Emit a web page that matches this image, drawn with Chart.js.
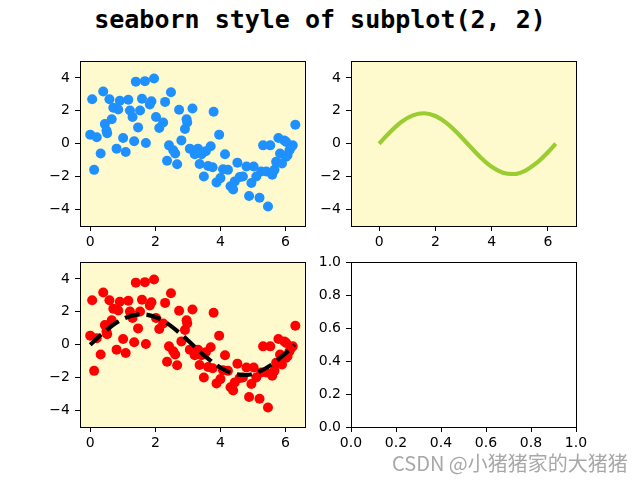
<!DOCTYPE html>
<html>
<head>
<meta charset="utf-8">
<script src="https://cdn.jsdelivr.net/npm/chart.js@4"></script>
<style>
  body { margin: 0; background: #fff; }
  #page { position: relative; width: 640px; height: 480px; overflow: hidden; }
  canvas { position: absolute; }
  #title {
    position: absolute; left: 0; top: 5px; width: 640px; text-align: center;
    font-family: 'DejaVu Sans Mono', monospace; font-weight: bold; font-size: 25px;
    color: #000;
  }
  #mark {
    position: absolute; left: 392px; top: 448px;
    font-family: 'Noto Sans CJK SC', sans-serif; font-size: 20px; color: #a8a8a8;
    white-space: nowrap;
  }
</style>
</head>
<body>
<div id="page">
  <div id="title">seaborn style of subplot(2, 2)</div>
  <canvas id="c1" width="295" height="208" style="left:30px;top:48px"></canvas>
  <canvas id="c2" width="295" height="208" style="left:301px;top:48px"></canvas>
  <canvas id="c3" width="295" height="208" style="left:30px;top:249px"></canvas>
  <canvas id="c4" width="295" height="208" style="left:301px;top:249px"></canvas>
  <div id="mark">CSDN @小猪猪家的大猪猪</div>
</div>
<script>
// scatter points (same set in both scatter panels)
const scatterX = [0.00, 0.06, 0.12, 0.20, 0.32, 0.40, 0.45, 0.52, 0.59, 0.66, 0.71, 0.81, 0.86, 0.91, 1.01, 1.09,
  1.17, 1.22, 1.30, 1.35, 1.40, 1.47, 1.53, 1.59, 1.68, 1.71, 1.83, 1.88, 1.96, 2.02, 2.12, 2.24, 2.30, 2.36,
  2.42, 2.48, 2.55, 2.61, 2.67, 2.73, 2.80, 2.91, 2.98, 3.06, 3.14, 3.21, 3.31, 3.36, 3.49, 3.55, 3.62, 3.70,
  3.76, 3.79, 3.88, 3.96, 4.00, 4.08, 4.14, 4.23, 4.31, 4.39, 4.44, 4.52, 4.59, 4.69, 4.80, 4.88, 4.95, 5.02,
  5.10, 5.20, 5.25, 5.31, 5.41, 5.46, 5.53, 5.59, 5.66, 5.71, 5.78, 5.83, 5.89, 5.96, 6.01, 6.06, 6.12, 6.17,
  6.22, 6.30, 3.21, 3.42, 6.02, 2.96, 0.50];
const scatterY = [0.55, 2.70, -1.59, 0.39, -0.60, 3.17, 1.19, 0.63, 2.70, 1.48, 2.18, -0.30, 2.08, 2.61, 0.35, -0.50,
  2.67, 2.02, 1.62, 0.15, 3.77, 0.99, 2.02, 2.73, 3.80, 0.04, 2.38, 2.58, 3.96, 1.62, 0.95, 1.29, 2.54, -1.04,
  -0.10, 3.13, -0.40, -0.60, -1.25, 2.06, 0.20, 0.89, 1.29, -0.30, 2.14, -0.50, -0.30, -1.23, -1.99, -0.46, -1.35, -0.16,
  -1.43, 1.94, -2.35, 0.55, -2.09, -1.55, -0.64, -1.59, -2.58, -2.78, -2.29, -1.15, -2.03, -1.99, -1.39, -3.18, -2.39, -1.39,
  -1.99, -3.28, -1.69, -0.10, -1.69, -3.82, -0.10, -1.89, -1.59, -1.10, 0.35, -0.60, -1.20, 0.20, -0.80, -0.70, -0.40, -0.20,
  -0.10, 1.15, -0.64, -0.64, 0.10, 1.49, 0.80];

// sine curve
const curveX = [0, 0.4, 0.8, 1.2, 1.6, 2.0, 2.4, 2.8, 3.2, 3.6, 4.0, 4.4, 4.8, 5.2, 5.6, 6.0, 6.28];
const curveY = [0, 0.72, 1.33, 1.72, 1.85, 1.68, 1.25, 0.62, -0.11, -0.82, -1.40, -1.76, -1.84, -1.63, -1.17, -0.52, 0.0];

// tick labels
const ticksX = [0, 2, 4, 6];
const ticksY = [-4, -2, 0, 2, 4];
const ticksUnit = [0, 0.2, 0.4, 0.6, 0.8, 1.0];

const pts = (xs, ys) => xs.map((x, i) => ({ x: x, y: ys[i] }));
const minus = v => String(v).replace('-', '\u2212');

// axes background + full frame like matplotlib spines
const framePlugin = {
  id: 'frame',
  beforeDraw(chart, args, opts) {
    const a = chart.chartArea, ctx = chart.ctx;
    ctx.save();
    ctx.fillStyle = opts.bg;
    ctx.fillRect(a.left, a.top, a.right - a.left, a.bottom - a.top);
    ctx.restore();
  },
  afterDraw(chart) {
    const a = chart.chartArea, ctx = chart.ctx;
    ctx.save();
    ctx.strokeStyle = '#000';
    ctx.lineWidth = 1;
    ctx.strokeRect(Math.round(a.left) + 0.5, Math.round(a.top) + 0.5,
      Math.round(a.right - a.left), Math.round(a.bottom - a.top));
    ctx.restore();
  }
};

function axis(min, max, ticks, fmt, isX) {
  return {
    type: 'linear', min: min, max: max,
    afterBuildTicks: s => { s.ticks = ticks.map(v => ({ value: v })); },
    afterFit: s => { if (isX) s.height = 30; else s.width = 50; },
    grid: { drawOnChartArea: false, drawTicks: true, tickLength: 5, color: '#000', lineWidth: 1 },
    border: { display: false },
    ticks: {
      color: '#000', font: { family: 'DejaVu Sans', size: 14 },
      padding: isX ? 3 : 5, autoSkip: false, maxRotation: 0,
      callback: fmt
    }
  };
}

function makePanel(id, datasets, xMin, xMax, xt, yMin, yMax, yt, bg, fmt) {
  return new Chart(document.getElementById(id), {
    type: 'scatter',
    data: { datasets: datasets },
    options: {
      responsive: false, animation: false, devicePixelRatio: 1,
      layout: { padding: { top: 10, right: 20, left: 0, bottom: 0 } },
      plugins: { legend: { display: false }, tooltip: { enabled: false }, frame: { bg: bg } },
      scales: {
        x: axis(xMin, xMax, xt, fmt, true),
        y: axis(yMin, yMax, yt, fmt, false)
      }
    },
    plugins: [framePlugin]
  });
}

const chiffon = '#fffacd';

makePanel('c1', [{
  data: pts(scatterX, scatterY), backgroundColor: '#1e90ff', pointRadius: 5, borderWidth: 0
}], -0.314, 6.597, ticksX, -5, 5, ticksY, chiffon, minus);

makePanel('c2', [{
  type: 'line', data: pts(curveX, curveY), borderColor: '#9acd32', borderWidth: 4.2,
  pointRadius: 0, showLine: true, cubicInterpolationMode: 'monotone', fill: false
}], -1, 7, ticksX, -5, 5, ticksY, chiffon, minus);

makePanel('c3', [{
  type: 'line', data: pts(curveX, curveY), borderColor: '#000', borderWidth: 4.2,
  borderDash: [15, 7], pointRadius: 0, showLine: true, cubicInterpolationMode: 'monotone', fill: false
}, {
  data: pts(scatterX, scatterY), backgroundColor: '#ff0000', pointRadius: 5, borderWidth: 0
}], -0.314, 6.597, ticksX, -5, 5, ticksY, chiffon, minus);

makePanel('c4', [], 0, 1, ticksUnit, 0, 1, ticksUnit, '#fff', v => v.toFixed(1));
</script>
</body>
</html>
